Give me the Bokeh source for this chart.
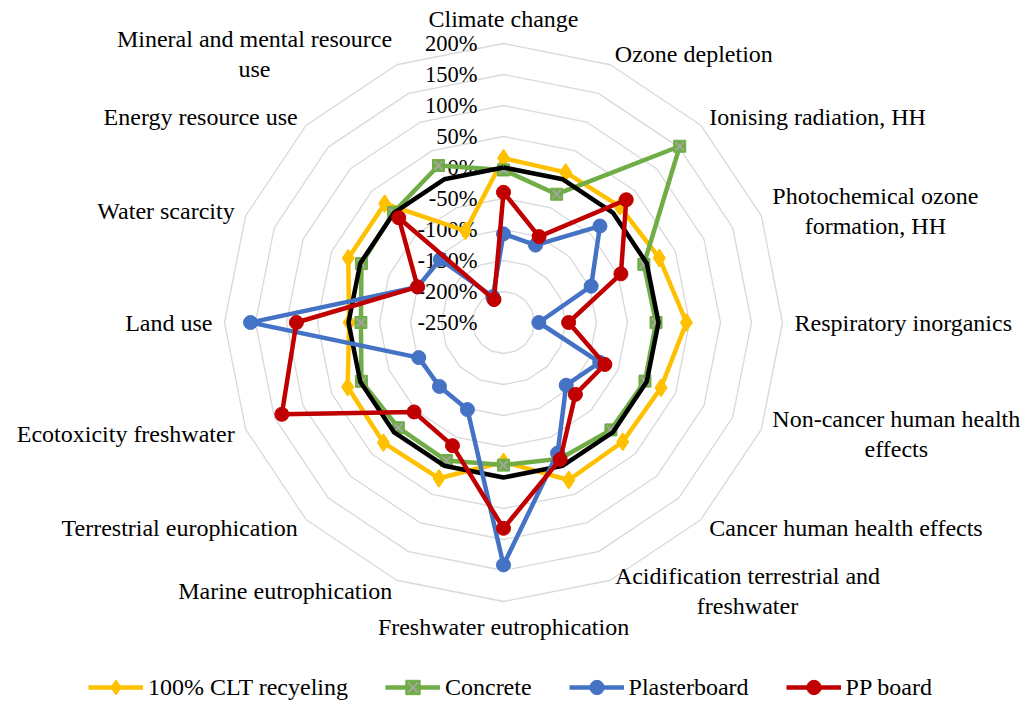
import math
from bokeh.plotting import figure
from bokeh.models import Range1d, Legend, LegendItem
from bokeh.core.properties import value
from bokeh.embed import file_html
from bokeh.resources import INLINE

categories = [
    "Climate change", "Ozone depletion", "Ionising radiation, HH",
    "Photochemical ozone\nformation, HH", "Respiratory inorganics",
    "Non-cancer human health\neffects", "Cancer human health effects",
    "Acidification terrestrial and\nfreshwater", "Freshwater eutrophication",
    "Marine eutrophication", "Terrestrial europhication", "Ecotoxicity freshwater",
    "Land use", "Water scarcity", "Energy resource use",
    "Mineral and mental resource\nuse",
]
clt_recycling = [15, 12, 15, 22, 45, 25, 22, 25, -25, 22, 24, 22, -1, 21, 21, -90]
concrete = [-4, -26, 152, -5, -4, -3, -5, -12, -20, -9, -10, -2, -20, -2, 1, 24]
plasterboard = [-107, -115, -30, -97, -193, -82, -107, -22, 141, -98, -104, -102, 158, -100, -106, -205]
pp_board = [-40, -100, 30, -45, -145, -73, -86, -11, 82, -35, -46, 137, 84, -100, -11, -210]
baseline = [0] * 16
tick_values = [-250, -200, -150, -100, -50, 0, 50, 100, 150, 200]
tick_labels = ["-250%", "-200%", "-150%", "-100%", "-50%", "0%", "50%", "100%", "150%", "200%"]

R_MIN = -250
W, H = 1025, 705
CX, CY = 503, 322          # centre in canvas pixels
K = 0.62                   # pixels per percentage point
FONT = "Liberation Serif"
FS = "24px"
FSPX = 24.0

p = figure(width=W, height=H, output_backend="svg", toolbar_location=None,
           x_range=Range1d(-CX / K, (W - CX) / K),
           y_range=Range1d(-(H - CY) / K, CY / K),
           min_border=0, outline_line_color=None)
p.axis.visible = False
p.grid.visible = False

n = len(categories)
angles = [2 * math.pi * i / n for i in range(n)]


def polar(vals):
    xs = [(v - R_MIN) * math.sin(a) for v, a in zip(vals, angles)]
    ys = [(v - R_MIN) * math.cos(a) for v, a in zip(vals, angles)]
    return xs, ys


def closed(xs, ys):
    return xs + xs[:1], ys + ys[:1]


# grid rings
for t in tick_values[1:]:
    gx, gy = closed(*polar([t] * n))
    p.line(gx, gy, line_color="#D9D9D9", line_width=1.3)

# tick labels
p.text(x=[-26 / K] * len(tick_values), y=[t - R_MIN for t in tick_values], text=tick_labels,
       text_font=value(FONT), text_font_size="22.5px", text_color="#000000",
       text_align="right", text_baseline="middle")

# Times-like widths for centring multi-line labels
WID = dict(zip("abcdefghijklmnopqrstuvwxyz",
               [444, 500, 444, 500, 444, 333, 500, 500, 278, 278, 500, 278, 778, 500, 500, 500, 500,
                333, 389, 278, 500, 500, 722, 500, 500, 444]))
WID.update(dict(zip("ABCDEFGHIJKLMNOPQRSTUVWXYZ",
                    [722, 667, 667, 722, 611, 556, 722, 722, 333, 389, 722, 611, 889, 722, 722, 556, 722,
                     667, 556, 611, 722, 722, 944, 722, 722, 611])))
WID.update({" ": 250, ",": 250, "-": 333, "%": 833})


def text_w(s):
    return max(sum(WID.get(c, 500) for c in line) for line in s.split("\n")) / 1000 * FSPX


# category labels
RL = 291 / K
for cat, a in zip(categories, angles):
    sx, sy = math.sin(a), math.cos(a)
    x, y = RL * sx, RL * sy
    if abs(sx) < 1e-6:
        align = "center"
        base = "bottom" if sy > 0 else "top"
    else:
        base = "middle"
        if "\n" in cat:
            align = "center"
            x += (1 if sx > 0 else -1) * text_w(cat) / 2 / K
        else:
            align = "left" if sx > 0 else "right"
    p.text(x=[x], y=[y], text=[cat], text_font=value(FONT), text_font_size=FS,
           text_color="#000000", text_align=align, text_baseline=base, text_line_height=1.15)

LW = 4.5
# 100% CLT recycling
xs, ys = polar(clt_recycling)
lx, ly = closed(xs, ys)
y_line = p.line(lx, ly, line_color="#FFC000", line_width=LW)
y_mark = p.scatter(xs, ys, marker="diamond", size=17,
                   fill_color="#FFC000", line_color="#FFC000", line_width=1.5)

# Concrete
xs, ys = polar(concrete)
lx, ly = closed(xs, ys)
g_line = p.line(lx, ly, line_color="#70AD47", line_width=LW)
g_sq = p.scatter(xs, ys, marker="square", size=12, fill_color="#70AD47", line_color="#70AD47")
g_x = p.scatter(xs, ys, marker="x", size=12, line_color="#A5A5A5", line_width=1.8)

# baseline (0 %)
xs, ys = polar(baseline)
lx, ly = closed(xs, ys)
p.line(lx, ly, line_color="#000000", line_width=LW)

# Plasterboard
xs, ys = polar(plasterboard)
lx, ly = closed(xs, ys)
b_line = p.line(lx, ly, line_color="#4472C4", line_width=LW)
b_mark = p.scatter(xs, ys, marker="circle", size=14, fill_color="#4472C4", line_color="#4472C4")

# PP board
xs, ys = polar(pp_board)
lx, ly = closed(xs, ys)
r_line = p.line(lx, ly, line_color="#C00000", line_width=LW)
r_mark = p.scatter(xs, ys, marker="circle", size=14, fill_color="#C00000", line_color="#C00000")

legend = Legend(items=[
    LegendItem(label="100% CLT recyeling", renderers=[y_line, y_mark]),
    LegendItem(label="Concrete", renderers=[g_line, g_sq, g_x]),
    LegendItem(label="Plasterboard", renderers=[b_line, b_mark]),
    LegendItem(label="PP board", renderers=[r_line, r_mark]),
], orientation="horizontal", location=(88, 0), glyph_width=55, glyph_height=36,
    label_height=36, label_standoff=5, spacing=37, padding=0, margin=0,
    border_line_color=None, background_fill_alpha=0,
    label_text_font="'Liberation Serif', 'Times New Roman', serif",
    label_text_font_size=FS, label_text_color="#000000")
p.add_layout(legend, "center")

open("out.html", "w").write(file_html(p, INLINE))
